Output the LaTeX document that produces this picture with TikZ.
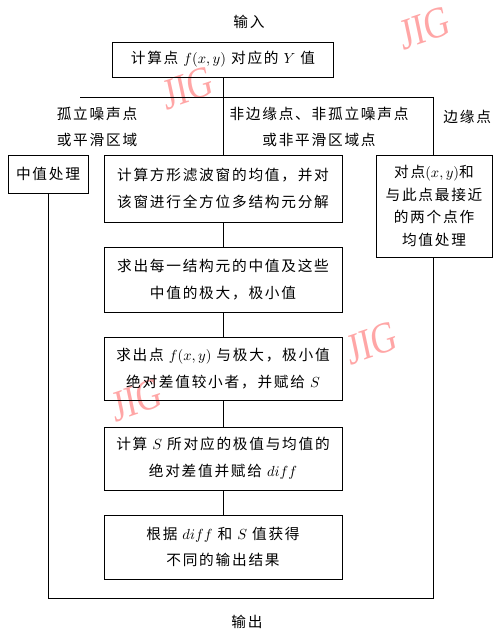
\documentclass[tikz,border=0pt]{standalone}
\usepackage{fontspec}
\newfontfamily\cjk[LetterSpace=12]{Noto Sans CJK SC}
\newfontfamily\wmfont{Liberation Serif}
\begin{document}
\begin{tikzpicture}[x=0.75pt,y=-0.75pt,
  line width=0.7pt,
  txt/.style={font=\cjk\fontsize{11}{20}\selectfont, align=center, inner sep=0pt},
  box/.style={txt, draw},
  wm/.style={text=red!35, font=\wmfont\fontsize{33}{33}\selectfont, xscale=0.8, rotate=15, inner sep=0pt}]
\useasboundingbox (0,0) rectangle (494,630);
% watermarks
\node[wm] (w1) at (425,28) {JIG};
\node[wm] (w2) at (188,88) {JIG};
\node[wm] (w3) at (372,343) {JIG};
\node[wm] (w4) at (137,400) {JIG};
% texts
\node[txt] (in) at (249,22) {输入};
\node[txt] (out) at (247,622) {输出};
\node[box, minimum width=165.75pt, minimum height=26.25pt] (b1) at (223,59.5) {计算点 $f(x,y)$ 对应的 $Y$ 值};
\node[txt] (ll) at (97,127) {孤立噪声点\\或平滑区域};
\node[txt] (lm) at (319,127) {非边缘点、非孤立噪声点\\或非平滑区域点};
\node[txt, anchor=west] (lr) at (443,117) {边缘点};
\node[box, minimum width=60pt, minimum height=28.5pt] (mz) at (48,174) {中值处理};
\node[box, minimum width=87pt, minimum height=76.5pt, font=\cjk\fontsize{11}{17}\selectfont] (rb) at (434,206) {对点$(x,y)$和\\与此点最接近\\的两个点作\\均值处理};
\node[box, minimum width=178.5pt, minimum height=50.25pt] (b2) at (223,188.5) {计算方形滤波窗的均值，并对\\该窗进行全方位多结构元分解};
\node[box, minimum width=178.5pt, minimum height=48.75pt] (b3) at (223,279.5) {求出每一结构元的中值及这些\\中值的极大，极小值};
\node[box, minimum width=178.5pt, minimum height=47.25pt] (b4) at (223,368.5) {求出点 $f(x,y)$ 与极大，极小值\\绝对差值较小者，并赋给 $S$};
\node[box, minimum width=178.5pt, minimum height=47.25pt] (b5) at (223,458.5) {计算 $S$ 所对应的极值与均值的\\绝对差值并赋给 $diff$};
\node[box, minimum width=178.5pt, minimum height=48pt] (b6) at (223,547) {根据 $diff$ 和 $S$ 值获得\\不同的输出结果};
% rails
\coordinate (rl) at (80,97);
\coordinate (rr) at (433,97);
\coordinate (bl) at (48,598);
\coordinate (br) at (433,598);
\draw (rl) -- (rr);
\draw (b1.south) -- (b2.north);
\draw (rr) -- (rr |- rb.north);
\draw (b2) -- (b3);
\draw (b3) -- (b4);
\draw (b4) -- (b5);
\draw (b5) -- (b6);
\draw (mz.south) -- (bl) -- (br) -- (br |- rb.south);
\end{tikzpicture}
\end{document}
